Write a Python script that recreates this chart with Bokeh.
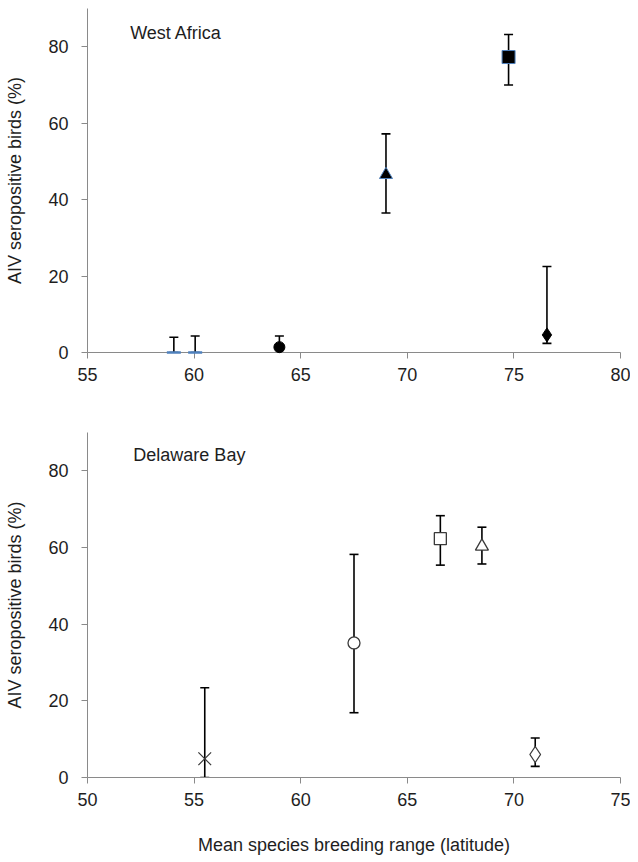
from bokeh.plotting import figure
from bokeh.layouts import column
from bokeh.models import ColumnDataSource, Label, Range1d, FixedTicker
from bokeh.embed import file_html
from bokeh.resources import INLINE

# ---- West Africa (top panel) ----
wa_lat = [59.05, 60.05, 64.0, 69.0, 74.75, 76.55]
wa_pct = [0.0, 0.0, 1.4, 46.5, 77.3, 4.6]
wa_lo = [0.0, 0.0, 0.0, 36.5, 70.0, 2.4]
wa_hi = [4.0, 4.3, 4.3, 57.2, 83.2, 22.5]

# ---- Delaware Bay (bottom panel) ----
db_lat = [55.5, 62.5, 66.55, 68.5, 71.0]
db_pct = [4.9, 35.1, 62.3, 60.3, 6.0]
db_lo = [0.0, 16.9, 55.4, 55.7, 2.9]
db_hi = [23.4, 58.2, 68.3, 65.3, 10.3]

y_ticks = [0, 20, 40, 60, 80]
wa_x_ticks = [55, 60, 65, 70, 75, 80]
db_x_ticks = [50, 55, 60, 65, 70, 75]

# styles
wa_markers = ["dash", "dash", "circle", "triangle", "square", "diamond"]
wa_sizes = [14, 14, 11, 13, 13, 14]
wa_fill = ["#4F81BD", "#4F81BD", "black", "black", "black", "black"]
wa_line = ["#4F81BD", "#4F81BD", "black", "#4F81BD", "#4F81BD", "black"]
wa_lw = [2.5, 2.5, 1, 1, 1, 1]

db_markers = ["x", "circle", "square", "triangle", "diamond"]
db_sizes = [18, 12, 12, 13, 16]
db_fill = ["white"] * 5
db_line = ["#3a3a3a"] * 5
db_lw = [1.2, 1.3, 1.3, 1.3, 1.3]

FONT = "Liberation Sans"
TXT = "#1e1e1e"
AX = "#8a8a8a"


def panel(lat, pct, lo, hi, mk, sz, fc, lc, lw, xr, xt, title, tx, ty,
          height, b_top, b_bottom, b_left, b_right, xlabel):
    p = figure(width=630, height=height, output_backend="svg", toolbar_location=None,
               x_range=Range1d(*xr), y_range=Range1d(0, 90),
               min_border_top=b_top, min_border_bottom=b_bottom,
               min_border_left=b_left, min_border_right=b_right)
    p.outline_line_color = None
    p.xgrid.visible = False
    p.ygrid.visible = False
    p.background_fill_color = "white"
    p.border_fill_color = "white"

    for ax in (p.xaxis[0], p.yaxis[0]):
        ax.axis_line_color = AX
        ax.major_tick_line_color = AX
        ax.minor_tick_line_color = None
        ax.major_tick_out = 6
        ax.major_tick_in = 0
        ax.major_label_text_font = FONT
        ax.major_label_text_font_size = "18px"
        ax.major_label_text_color = TXT
        ax.axis_label_text_font = FONT
        ax.axis_label_text_font_size = "18px"
        ax.axis_label_text_font_style = "normal"
        ax.axis_label_text_color = TXT
    p.xaxis[0].ticker = FixedTicker(ticks=xt)
    p.yaxis[0].ticker = FixedTicker(ticks=y_ticks)
    p.xaxis[0].major_label_standoff = 9
    p.yaxis[0].major_label_standoff = 13
    p.yaxis[0].axis_label = "AIV seropositive birds (%)"
    p.yaxis[0].axis_label_standoff = 20
    if xlabel:
        p.xaxis[0].axis_label = xlabel
        p.xaxis[0].axis_label_standoff = 26

    src = ColumnDataSource(dict(x=lat, y=pct, lo=lo, hi=hi, m=mk, s=sz, fc=fc, lc=lc, lw=lw))
    p.segment(x0="x", y0="lo", x1="x", y1="hi", source=src, line_color="black", line_width=1.6)
    p.scatter(x="x", y="hi", source=src, marker="dash", size=9, line_color="black", line_width=1.6)
    p.scatter(x="x", y="lo", source=src, marker="dash", size=9, line_color="black", line_width=1.6)
    p.scatter(x="x", y="y", source=src, marker="m", size="s", fill_color="fc",
              line_color="lc", line_width="lw", level="overlay")

    p.add_layout(Label(x=tx, y=ty, text=title, text_font=FONT, text_font_size="18px",
                       text_color=TXT, text_baseline="middle", text_align="left"))
    return p


p1 = panel(wa_lat, wa_pct, wa_lo, wa_hi, wa_markers, wa_sizes, wa_fill, wa_line, wa_lw,
           (55, 80), wa_x_ticks, "West Africa", 57.0, 83.6,
           410, 8, 58, 86, 10, None)
p2 = panel(db_lat, db_pct, db_lo, db_hi, db_markers, db_sizes, db_fill, db_line, db_lw,
           (50, 75), db_x_ticks, "Delaware Bay", 52.15, 84.1,
           449, 22, 82, 87, 9, "Mean species breeding range (latitude)")

layout = column(p1, p2, spacing=0)
open("out.html", "w").write(file_html(layout, INLINE))
